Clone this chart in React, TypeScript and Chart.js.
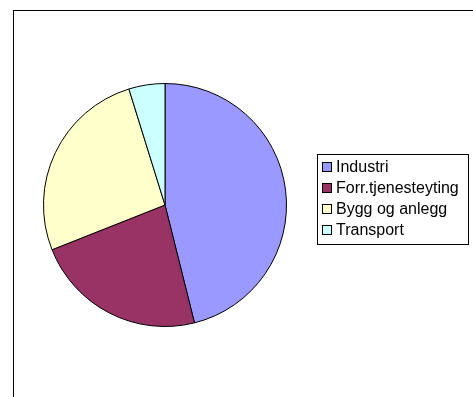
import React, { useEffect, useRef } from "react";
import { Chart, registerables } from "chart.js";

Chart.register(...registerables);

const categories = ["Industri", "Forr.tjenesteyting", "Bygg og anlegg", "Transport"];
const values = [46.1, 22.9, 26.2, 4.8];
const colors = ["#9999FF", "#993366", "#FFFFCC", "#CCFFFF"];

const CW = 459;
const CH = 386;

const boxLegend = {
  id: "boxLegend",
  afterDraw(chart: any) {
    const ctx = chart.ctx as CanvasRenderingContext2D;
    const bx = 303;
    const by = 143;
    const bw = 151;
    const bh = 90;
    ctx.save();
    ctx.fillStyle = "#FFFFFF";
    ctx.fillRect(bx, by, bw, bh);
    ctx.strokeStyle = "#000000";
    ctx.lineWidth = 1;
    ctx.strokeRect(bx + 0.5, by + 0.5, bw, bh);
    const labels: string[] = chart.data.labels;
    const bg: string[] = chart.data.datasets[0].backgroundColor;
    ctx.font = "16px 'Liberation Sans', Arial, sans-serif";
    ctx.textBaseline = "middle";
    labels.forEach((lab, i) => {
      const cy = by + 13 + i * 21;
      ctx.fillStyle = bg[i];
      ctx.fillRect(bx + 5, cy - 4, 9, 9);
      ctx.strokeStyle = "#000";
      ctx.strokeRect(bx + 5.5, cy - 4.5, 9, 9);
      ctx.fillStyle = "#000";
      ctx.fillText(lab, bx + 19, cy + 1);
    });
    ctx.restore();
  },
};

export default function App() {
  const ref = useRef<HTMLCanvasElement | null>(null);

  useEffect(() => {
    if (!ref.current) return;
    const chart = new Chart(ref.current, {
      type: "pie",
      data: {
        labels: categories,
        datasets: [
          {
            data: values,
            backgroundColor: colors,
            borderColor: "#000000",
            borderWidth: 1,
          },
        ],
      },
      options: {
        responsive: false,
        animation: false,
        devicePixelRatio: 1,
        layout: { padding: { left: 29, right: 186, top: 72, bottom: 70 } },
        plugins: {
          legend: { display: false },
          tooltip: { enabled: false },
          title: { display: false },
        },
      },
      plugins: [boxLegend],
    });
    return () => chart.destroy();
  }, []);

  return (
    <div
      style={{
        position: "fixed",
        left: 0,
        top: 0,
        width: 473,
        height: 397,
        overflow: "hidden",
        background: "#fff",
      }}
    >
      <div
        style={{
          position: "absolute",
          left: 13,
          top: 10,
          width: 480,
          height: 400,
          border: "1px solid #000",
          background: "#fff",
        }}
      >
        <canvas ref={ref} width={CW} height={CH} style={{ display: "block", width: CW, height: CH }} />
      </div>
    </div>
  );
}
